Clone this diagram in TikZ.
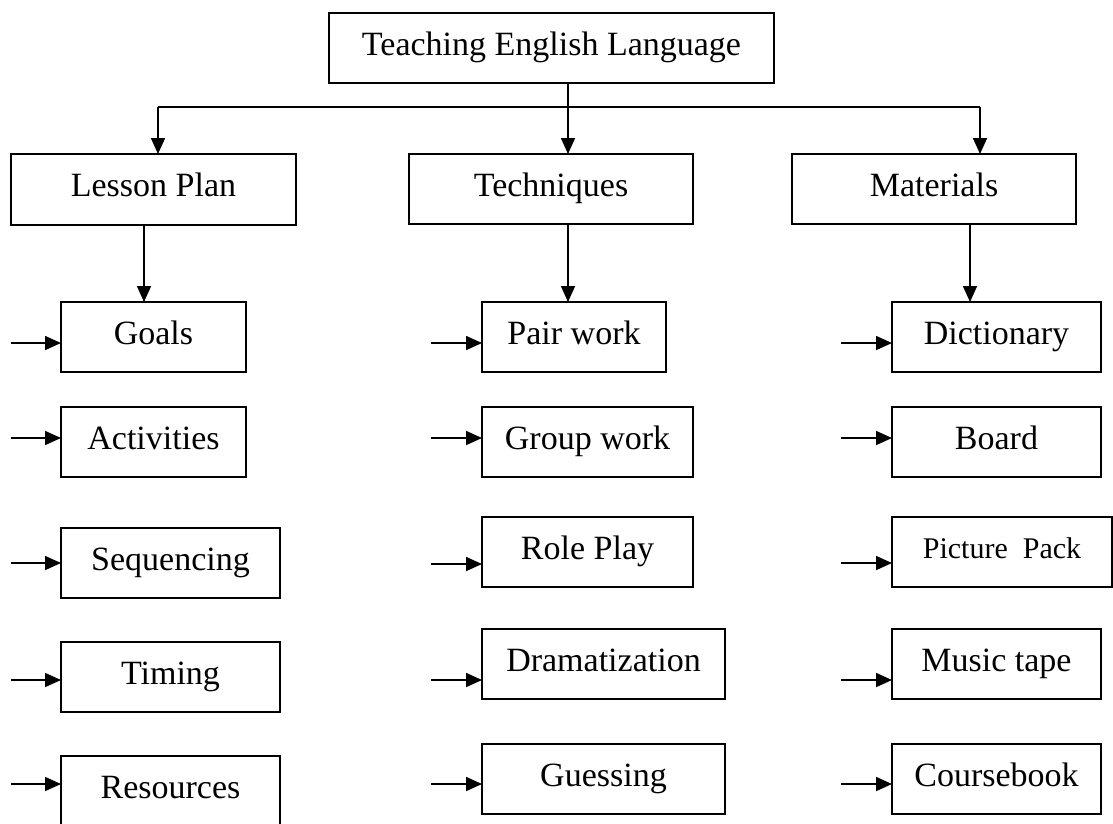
\documentclass[tikz,border=0pt]{standalone}
\usepackage{fontspec}
\setmainfont{Liberation Serif}
\usetikzlibrary{arrows.meta}
\tikzset{
  boxst/.style={draw, line width=1.5pt, inner sep=0pt, outer sep=0pt, minimum height=70pt,
    align=center, text height=22.4pt, text depth=8.2pt, font=\fontsize{34}{40}\selectfont},
  smallbox/.style={boxst, text height=19.8pt, text depth=7.2pt, font=\fontsize{30}{36}\selectfont},
  arr/.style={line width=1.6pt, -{Triangle[length=16pt,width=14pt]}},
  ln/.style={line width=1.6pt}
}
\begin{document}
\begin{tikzpicture}[x=1pt,y=-1pt]
\useasboundingbox (0,0) rectangle (1113,823);
% top level
\node[boxst, minimum width=445pt] (top) at (551.5,48) {Teaching English Language};
% second level
\node[boxst, minimum width=285pt, minimum height=71pt] (lp) at (153.5,189.5) {Lesson Plan};
\node[boxst, minimum width=284pt] (tech) at (551,189) {Techniques};
\node[boxst, minimum width=284pt] (mat) at (934,189) {Materials};
% lesson plan column
\node[boxst, minimum width=185pt] (goals) at (153.5,337) {Goals};
\node[boxst, minimum width=185pt] (act) at (153.5,442) {Activities};
\node[boxst, minimum width=219pt] (seq) at (170.5,563) {Sequencing};
\node[boxst, minimum width=219pt] (tim) at (170.5,677) {Timing};
\node[boxst, minimum width=219pt] (res) at (170.5,791) {Resources};
% techniques column
\node[boxst, minimum width=184pt] (pair) at (574,337) {Pair work};
\node[boxst, minimum width=211pt] (group) at (587.5,442) {Group work};
\node[boxst, minimum width=211pt] (role) at (587.5,552) {Role Play};
\node[boxst, minimum width=243pt] (dram) at (603.5,664) {Dramatization};
\node[boxst, minimum width=243pt] (guess) at (603.5,779) {Guessing};
% materials column
\node[boxst, minimum width=209pt] (dict) at (996.5,337) {Dictionary};
\node[boxst, minimum width=209pt] (board) at (996.5,442) {Board};
\node[smallbox, minimum width=220pt] (pic) at (1002,552) {Picture\ \ Pack};
\node[boxst, minimum width=209pt] (music) at (996.5,664) {Music tape};
\node[boxst, minimum width=209pt] (course) at (996.5,779) {Coursebook};
% top connectors
\coordinate (busL) at (158,107);
\coordinate (busR) at (980,107);
\draw[ln] (busL) -- (busR);
\draw[arr] ([xshift=16.5pt]top.south) -- ([xshift=16.5pt]top.south |- tech.north);
\draw[arr] (busL) -- (busL |- lp.north);
\draw[arr] (busR) -- (busR |- mat.north);
% down connectors
\draw[arr] ([xshift=-9.5pt]lp.south) -- ([xshift=-9.5pt]lp.south |- goals.north);
\draw[arr] ([xshift=17pt]tech.south) -- ([xshift=17pt]tech.south |- pair.north);
\draw[arr] ([xshift=36pt]mat.south) -- ([xshift=36pt]mat.south |- dict.north);
% side arrows, left column
\coordinate (a1) at (11,343); \draw[arr] (a1) -- (a1 -| goals.west);
\coordinate (a2) at (11,438); \draw[arr] (a2) -- (a2 -| act.west);
\coordinate (a3) at (11,563); \draw[arr] (a3) -- (a3 -| seq.west);
\coordinate (a4) at (11,680); \draw[arr] (a4) -- (a4 -| tim.west);
\coordinate (a5) at (11,784); \draw[arr] (a5) -- (a5 -| res.west);
% middle column
\coordinate (b1) at (431,343); \draw[arr] (b1) -- (b1 -| pair.west);
\coordinate (b2) at (431,438); \draw[arr] (b2) -- (b2 -| group.west);
\coordinate (b3) at (431,564); \draw[arr] (b3) -- (b3 -| role.west);
\coordinate (b4) at (431,680); \draw[arr] (b4) -- (b4 -| dram.west);
\coordinate (b5) at (431,784); \draw[arr] (b5) -- (b5 -| guess.west);
% right column
\coordinate (c1) at (841,343); \draw[arr] (c1) -- (c1 -| dict.west);
\coordinate (c2) at (841,438); \draw[arr] (c2) -- (c2 -| board.west);
\coordinate (c3) at (841,563); \draw[arr] (c3) -- (c3 -| pic.west);
\coordinate (c4) at (841,680); \draw[arr] (c4) -- (c4 -| music.west);
\coordinate (c5) at (841,784); \draw[arr] (c5) -- (c5 -| course.west);
\end{tikzpicture}
\end{document}
